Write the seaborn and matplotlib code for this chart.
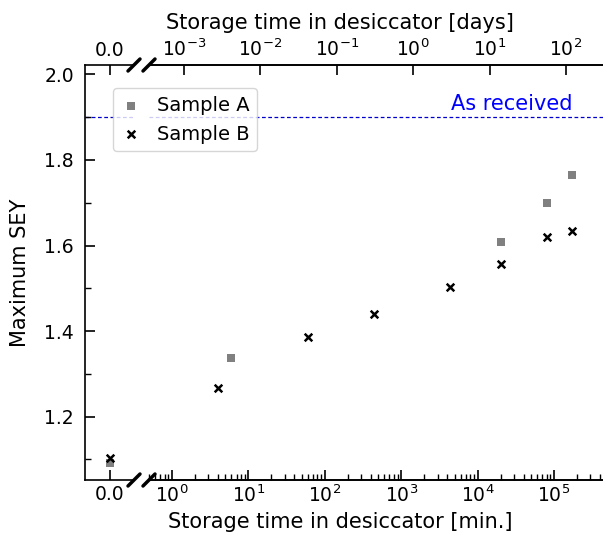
import numpy as np
import pandas as pd
import matplotlib
matplotlib.use("Agg")
import matplotlib.pyplot as plt
import matplotlib.ticker as mticker
from matplotlib.lines import Line2D
import seaborn as sns

# ----------------------------
# data (storage time in minutes, 0 = right after conditioning)
# ----------------------------
time_a = [0, 6, 20160, 80640, 172800]
sey_a = [1.092, 1.338, 1.609, 1.700, 1.766]
time_b = [0, 4, 60, 440, 4320, 20160, 80640, 172800]
sey_b = [1.104, 1.268, 1.387, 1.441, 1.504, 1.558, 1.621, 1.635]
as_received = 1.90

min_ticks = [1e0, 1e1, 1e2, 1e3, 1e4, 1e5]
day_ticks = [1e-3, 1e-2, 1e-1, 1e0, 1e1, 1e2]

df = pd.concat([
    pd.DataFrame({"t": time_a, "sey": sey_a, "sample": "Sample A"}),
    pd.DataFrame({"t": time_b, "sey": sey_b, "sample": "Sample B"}),
], ignore_index=True)

styles = {
    "Sample A": dict(marker="s", color="grey", s=36, linewidth=0),
    "Sample B": dict(marker="x", color="black", s=30, linewidth=1.8),
}

FS_TICK = 13.5
FS_LAB = 15
sns.set_style("ticks")
plt.rcParams["font.family"] = ["DejaVu Sans"]
plt.rcParams.update({
    "axes.linewidth": 1.2,
    "text.color": "black",
    "axes.labelcolor": "black",
    "axes.edgecolor": "black",
    "xtick.color": "black",
    "ytick.color": "black",
})

W, H = 603, 536
fig = plt.figure(figsize=(W / 100, H / 100), dpi=100)


def px(x0, y0, x1, y1):
    return [x0 / W, 1 - y1 / H, (x1 - x0) / W, (y1 - y0) / H]


XLIM = (0.5, 6.3e5)
ax0 = fig.add_axes(px(85, 65, 134, 480))
ax1 = fig.add_axes(px(149, 65, 615, 480), sharey=ax0)

for name in ["Sample A", "Sample B"]:
    sub = df[df["sample"] == name]
    sns.scatterplot(data=sub[sub["t"] == 0], x="t", y="sey", ax=ax0,
                    label=name, legend=False, **styles[name])
    sns.scatterplot(data=sub[sub["t"] > 0], x="t", y="sey", ax=ax1,
                    legend=False, **styles[name])

for a in (ax0, ax1):
    a.axhline(as_received, color="mediumblue", lw=0.9, ls=(0, (3, 2)), zorder=0)
ax1.text(2.8e4, 1.917, "As received", color="blue", fontsize=FS_LAB,
         ha="center", va="baseline")

# left part: the zero point
ax0.set_xlim(-1, 1)
ax0.set_ylim(1.052, 2.022)
ax0.set_xticks([0])
ax0.xaxis.set_major_formatter(mticker.FormatStrFormatter("%.1f"))
ax0.xaxis.set_minor_locator(mticker.NullLocator())
ax0.yaxis.set_major_locator(mticker.MultipleLocator(0.2))
ax0.yaxis.set_minor_locator(mticker.MultipleLocator(0.1))
ax0.yaxis.set_major_formatter(mticker.FormatStrFormatter("%.1f"))
ax0.tick_params(axis="x", top=True, labeltop=True)
ax0.spines["right"].set_visible(False)
ax0.set_xlabel("")
ax0.set_ylabel("Maximum SEY", fontsize=FS_LAB, labelpad=10)

# right part: log time axis
ax1.set_xscale("log")
ax1.set_xlim(*XLIM)
ax1.xaxis.set_major_locator(mticker.FixedLocator(min_ticks))
ax1.spines["left"].set_visible(False)
ax1.tick_params(axis="y", which="both", left=False, labelleft=False)
ax1.set_xlabel("Storage time in desiccator [min.]", fontsize=FS_LAB, x=0.41)
ax1.set_ylabel("")

top = ax1.twiny()
top.set_xscale("log")
top.set_xlim(XLIM[0] / 1440, XLIM[1] / 1440)
top.xaxis.set_major_locator(mticker.FixedLocator(day_ticks))
top.xaxis.set_minor_locator(mticker.NullLocator())
top.spines["left"].set_visible(False)
top.set_xlabel("Storage time in desiccator [days]", fontsize=FS_LAB, x=0.41,
               labelpad=7)

for a in (ax0, ax1, top):
    a.tick_params(which="major", direction="in", length=7, width=1.2,
                  labelsize=FS_TICK)
    a.tick_params(which="minor", direction="in", length=4, width=1)
ax0.tick_params(axis="y", pad=8)

# break marks
for xc in (134, 149):
    for yc in (65, 480):
        fig.add_artist(Line2D([(xc - 6) / W, (xc + 6) / W],
                              [1 - (yc + 6) / H, 1 - (yc - 6) / H],
                              color="black", lw=2.5))

handles, labels = ax0.get_legend_handles_labels()
fig.legend(handles, labels, loc="upper left", fontsize=14,
           handlelength=1.05, handletextpad=0.8,
           bbox_to_anchor=(113 / W, 1 - 88 / H), borderaxespad=0)

fig.savefig("out.png", dpi=100)
